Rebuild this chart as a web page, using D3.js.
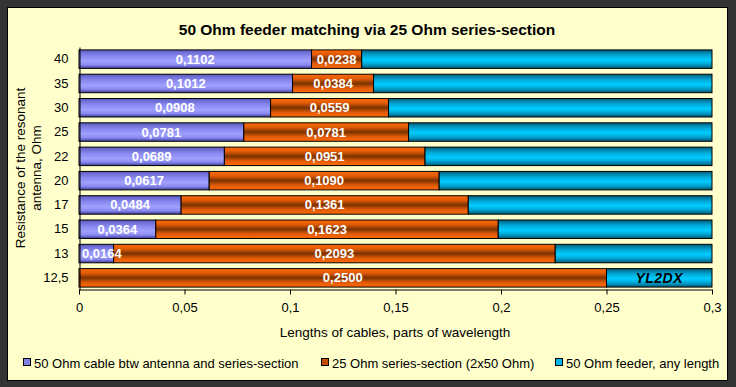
<!DOCTYPE html>
<html><head><meta charset="utf-8">
<script src="https://cdn.jsdelivr.net/npm/d3@7"></script>
<style>
html,body{margin:0;padding:0;background:#333333;}
svg{display:block;font-family:"Liberation Sans",Arial,sans-serif;}
</style></head>
<body>
<svg id="c" width="736" height="387"></svg>
<script>
const categories = ["40","35","30","25","22","20","17","15","13","12,5"];
const cableAntenna = [0.1102,0.1012,0.0908,0.0781,0.0689,0.0617,0.0484,0.0364,0.0164,0];
const seriesSection = [0.0238,0.0384,0.0559,0.0781,0.0951,0.1090,0.1361,0.1623,0.2093,0.2500];
const feeder = [0.1660,0.1604,0.1533,0.1438,0.1360,0.1293,0.1155,0.1013,0.0743,0.0500];
const xTicks = [0,0.05,0.1,0.15,0.2,0.25,0.3];
const seriesNames = ["50 Ohm cable btw antenna and series-section","25 Ohm series-section (2x50 Ohm)","50 Ohm feeder, any length"];

const svg = d3.select("#c");
const fmt = v => d3.format(".4f")(v).replace(".", ",");
const tickFmt = v => String(+v.toFixed(2)).replace(".", ",");

// defs: gradients
const defs = svg.append("defs");
const grads = [
  {id:"gP", stops:[[0,"#5c5cc0"],[0.3,"#8484ec"],[0.6,"#a0a0ff"],[0.8,"#8c8cf2"],[1,"#40409e"]]},
  {id:"gO", stops:[[0,"#ff6a08"],[0.25,"#e05a06"],[0.5,"#7a3200"],[0.75,"#e05a06"],[1,"#ff6a08"]]},
  {id:"gB", stops:[[0,"#005f7a"],[0.3,"#00a8d8"],[0.55,"#00ccff"],[0.75,"#00a8d8"],[1,"#005a74"]]}
];
grads.forEach(g => {
  const lg = defs.append("linearGradient").attr("id", g.id).attr("x1",0).attr("y1",0).attr("x2",0).attr("y2",1);
  g.stops.forEach(s => lg.append("stop").attr("offset", s[0]).attr("stop-color", s[1]));
});
const fills = ["url(#gP)","url(#gO)","url(#gB)"];
const legendFills = ["#8080e6","#c04c00","#00b8ec"];

// panel
svg.append("rect").attr("x",7.5).attr("y",7.5).attr("width",720).attr("height",373)
  .attr("fill","#ffffcc").attr("stroke","#000").attr("stroke-width",1);

// title
svg.append("text").attr("x",367).attr("y",35).attr("text-anchor","middle")
  .attr("font-size",15.5).attr("font-weight","bold").attr("fill","#000")
  .text("50 Ohm feeder matching via 25 Ohm series-section");

const x = d3.scaleLinear().domain([0,0.3]).range([79,712]);
const y = d3.scaleBand().domain(categories).range([47,290]).paddingInner(0.24).paddingOuter(0.12);

const stackData = categories.map((c,i) => ({cat:c, v:[cableAntenna[i], seriesSection[i], feeder[i]]}));

const g = svg.append("g");
const labels = svg.append("g");
stackData.forEach(d => {
  let acc = 0;
  d.v.forEach((v,k) => {
    const x0 = acc, x1 = acc + v;
    acc = x1;
    if (v <= 0) return;
    g.append("rect")
      .attr("x", x(x0)).attr("y", y(d.cat))
      .attr("width", x(x1)-x(x0)).attr("height", y.bandwidth())
      .attr("fill", fills[k]).attr("stroke","#000").attr("stroke-width",1);
    if (k < 2) {
      const t = labels.append("text")
        .attr("x", (x(x0)+x(x1))/2).attr("y", y(d.cat)+y.bandwidth()/2+4.5)
        .attr("text-anchor","middle").attr("font-size",13).attr("font-weight","bold")
        .attr("fill","#fff").text(fmt(v));
      const w = t.node().getComputedTextLength();
      const minCx = x(0) + 3 + w/2;
      if ((x(x0)+x(x1))/2 < minCx) t.attr("x", minCx);
    }
  });
});

// YL2DX label in last feeder segment
const last = stackData[stackData.length-1];
svg.append("text")
  .attr("x", x(last.v[0]+last.v[1]+last.v[2]/2)).attr("y", y(last.cat)+y.bandwidth()/2+5)
  .attr("text-anchor","middle").attr("font-size",14).attr("font-style","italic").attr("font-weight","bold")
  .attr("fill","#000").attr("letter-spacing",0.5).text("YL2DX");

// x axis
const xAxis = svg.append("g").attr("transform","translate(0,289.5)")
  .call(d3.axisBottom(x).tickValues(xTicks).tickFormat(tickFmt).tickSize(5).tickSizeOuter(0));
xAxis.select(".domain").attr("stroke","#000");
xAxis.selectAll(".tick line").attr("stroke","#000");
xAxis.selectAll("text").attr("font-size",13).attr("fill","#000").attr("dy","1.15em")
  .attr("font-family","Liberation Sans, Arial, sans-serif");

// y axis
const yAxis = svg.append("g").attr("transform","translate(79.5,0)")
  .call(d3.axisLeft(y).tickSize(0).tickPadding(11));
yAxis.select(".domain").attr("stroke","#000");
yAxis.selectAll("text").attr("font-size",13).attr("fill","#000")
  .attr("font-family","Liberation Sans, Arial, sans-serif");

// axis titles
svg.append("text").attr("x",395).attr("y",337).attr("text-anchor","middle")
  .attr("font-size",13.5).attr("fill","#000").text("Lengths of cables, parts of wavelength");
const yt = svg.append("text").attr("transform","translate(25,168) rotate(-90)")
  .attr("text-anchor","middle").attr("font-size",13.5).attr("fill","#000");
yt.append("tspan").attr("x",0).attr("dy",0).text("Resistance of the resonant");
yt.append("tspan").attr("x",0).attr("dy",16).text("antenna, Ohm");

// legend
const legX = [23, 321, 555];
seriesNames.forEach((n,i) => {
  svg.append("rect").attr("x",legX[i]+0.5).attr("y",358.5).attr("width",7).attr("height",7)
    .attr("fill",legendFills[i]).attr("stroke","#000").attr("stroke-width",1);
  svg.append("text").attr("x",legX[i]+11).attr("y",367.5).attr("font-size",13).attr("fill","#000").text(n);
});
</script>
</body></html>
